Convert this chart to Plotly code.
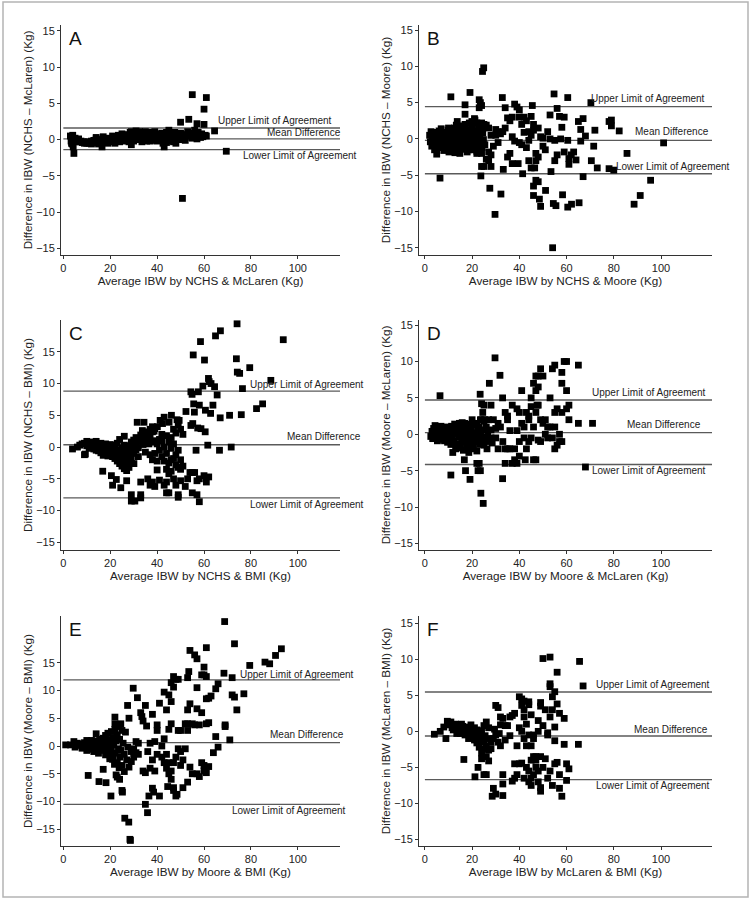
import plotly.graph_objects as go

# ---------------- DATA ----------------
x_ticks = [0, 20, 40, 60, 80, 100]
y_ticks = [-15, -10, -5, 0, 5, 10, 15]

panel_letters = ["A", "B", "C", "D", "E", "F"]
x_titles = [
    "Average IBW by NCHS & McLaren (Kg)",
    "Average IBW by NCHS & Moore (Kg)",
    "Average IBW by NCHS & BMI (Kg)",
    "Average IBW by Moore & McLaren (Kg)",
    "Average IBW by Moore & BMI (Kg)",
    "Average IBW by McLaren & BMI (Kg)",
]
y_titles = [
    "Difference in IBW (NCHS – McLaren) (Kg)",
    "Difference in IBW (NCHS – Moore) (Kg)",
    "Difference in IBW (NCHS – BMI) (Kg)",
    "Difference in IBW (Moore – McLaren) (Kg)",
    "Difference in IBW (Moore – BMI) (Kg)",
    "Difference in IBW (McLaren – BMI) (Kg)",
]
line_labels = ["Lower Limit of Agreement", "Mean Difference", "Upper Limit of Agreement"]

# limits of agreement: [lower, mean, upper]
limits_A = [-1.38, 0.1, 1.6]
limits_B = [-4.8, -0.2, 4.45]
limits_C = [-8.0, 0.37, 8.8]
limits_D = [-4.15, 0.23, 4.7]
limits_E = [-10.5, 0.6, 11.9]
limits_F = [-6.7, -0.65, 5.45]

pts_A = [
    (3.0, 0.5), (3.3, -0.2), (3.5, -0.5), (3.6, 0.3), (3.8, -0.6), (4.0, 0.1), (4.0, 0.6), (4.2, -1.0),
    (4.5, -1.9), (4.8, -0.3), (5.0, 0.2), (5.5, 0.0), (6.0, -0.2), (6.5, 0.1), (7.0, -0.3), (7.5, -0.2),
    (8.0, -0.4), (8.5, -0.3), (9.0, -0.5), (9.5, -0.4), (10.0, -0.5), (10.5, -0.3), (11.0, -0.5),
    (11.5, -0.4), (12.0, -0.2), (12.0, -0.6), (12.5, -0.4), (13.0, -0.1), (13.5, -0.3), (14.0, 0.1),
    (14.0, 0.3), (14.5, -0.2), (15.0, -0.1), (15.0, -0.6), (15.5, -0.3), (16.0, 0.0), (16.5, -1.0),
    (17.0, -0.2), (17.0, 0.4), (17.5, 0.1), (18.0, -0.3), (18.5, 0.2), (19.0, -0.1), (19.0, -0.5),
    (19.5, 0.0), (20.0, 0.1), (20.5, -0.3), (21.0, 0.2), (21.0, 0.5), (21.5, -0.2), (22.0, 0.0),
    (22.0, -0.5), (22.5, 0.4), (23.0, 0.2), (23.5, 0.6), (24.0, 0.1), (24.0, -0.3), (24.5, 0.5),
    (25.0, 0.3), (25.0, 0.8), (25.5, 0.0), (26.0, 0.4), (26.0, -0.2), (26.5, 0.2), (27.0, 0.1),
    (27.0, 0.7), (27.5, 0.5), (28.0, 0.2), (28.0, -0.3), (28.5, 1.0), (29.0, -0.7), (29.0, 1.1),
    (29.5, 0.7), (30.0, 0.5), (30.0, -0.2), (30.5, 1.0), (31.0, 0.3), (31.0, 1.2), (31.5, 0.8),
    (32.0, 0.0), (32.5, 1.1), (33.0, 0.6), (33.0, 0.9), (33.5, -0.3), (34.0, 0.9), (34.0, 0.0),
    (34.5, 0.4), (35.0, 1.1), (35.5, -0.2), (36.0, 0.7), (36.0, 1.0), (36.5, 0.3), (37.0, 0.9),
    (37.0, -0.2), (37.5, 0.5), (38.0, 1.0), (38.5, -0.1), (39.0, 0.6), (39.0, 1.1), (39.5, 0.2),
    (40.0, 0.8), (40.0, -0.2), (40.5, 0.4), (41.0, 0.6), (41.5, 0.0), (42.0, 0.3), (42.0, 0.9),
    (42.5, -0.5), (43.0, -1.0), (43.5, 0.2), (44.0, -0.4), (44.0, 1.0), (44.5, 0.6), (45.0, 1.3),
    (45.0, -0.2), (45.5, 0.3), (46.0, 0.9), (46.5, 0.1), (47.0, 0.6), (47.0, -0.3), (47.5, 1.0),
    (48.0, -0.5), (48.0, 0.8), (48.5, 0.3), (49.0, 0.6), (49.5, 0.1), (50.0, 2.4), (50.0, 0.0),
    (50.0, 0.9), (50.5, 0.5), (50.8, -8.1), (51.0, 0.4), (51.5, 0.7), (52.0, 0.3), (52.0, -0.1),
    (52.5, 0.6), (53.0, 0.5), (53.0, 1.1), (53.5, 2.8), (54.0, 0.8), (54.5, 0.6), (55.0, 6.2),
    (55.0, 0.2), (55.5, 0.9), (56.0, 0.7), (56.0, 1.3), (57.0, 2.2), (57.0, 0.1), (57.5, 1.0),
    (58.0, 0.6), (58.5, 0.3), (59.0, 0.8), (59.5, 0.4), (60.0, 2.1), (60.0, 4.2), (60.5, 0.6),
    (61.0, 5.8), (61.0, 0.5), (64.5, 1.2), (69.5, -1.6),
]

pts_B = [
    # dense cluster
    (2.0, 0.5), (2.3, -0.4), (2.6, 1.0), (2.9, -1.0), (3.2, 0.2), (3.5, -0.7), (3.8, 0.6), (4.1, -1.5),
    (4.4, -0.2), (4.7, 0.9), (5.0, -2.1), (5.3, 0.3), (5.6, -0.9), (5.9, 0.5), (6.2, -0.3), (6.5, 0.8),
    (6.8, -1.2), (7.1, 0.1), (7.4, -0.6), (7.7, 0.4), (8.0, -1.6), (8.3, 0.9), (8.6, -0.2), (8.9, 0.6),
    (9.2, -1.0), (9.5, 0.2), (9.8, 1.2), (10.1, -0.5), (10.4, 0.7), (10.7, -1.3), (11.0, 0.0), (11.3, 1.0),
    (11.6, -0.8), (11.9, 0.4), (12.2, -1.6), (12.5, 1.5), (12.8, -0.3), (13.1, 0.8), (13.4, -1.1),
    (13.7, 2.4), (14.0, 0.2), (14.3, -1.7), (14.6, 1.2), (14.9, -0.5), (15.2, 0.6), (15.5, -1.4),
    (15.8, 1.8), (16.1, -0.1), (16.4, 0.9), (16.7, -1.0), (17.0, 2.0), (17.3, -0.6), (17.6, 0.4),
    (17.9, -1.8), (18.2, 1.3), (18.5, -0.2), (18.8, 2.2), (19.1, -1.2), (19.4, 0.7), (19.7, -0.4),
    (20.0, 1.6), (20.3, -1.5), (20.6, 0.3), (20.9, -0.8), (21.2, 2.6), (21.5, 0.1), (21.8, -1.0),
    (22.1, 1.1), (22.4, -0.3), (22.7, 1.9), (23.0, -1.9), (23.3, 0.5), (23.6, -0.6), (23.9, 1.4),
    (24.2, -1.2), (24.5, 0.8), (24.8, -0.1), (25.1, 1.7), (25.4, -0.8),
    (3.0, -0.1), (4.0, 0.4), (5.0, -0.5), (6.0, 1.1), (7.0, -0.9), (8.0, 0.3), (9.0, -0.4), (10.0, 1.5),
    (11.0, -1.1), (12.0, 0.6), (13.0, -0.6), (14.0, 1.6), (15.0, -0.9), (16.0, 0.5), (17.0, -1.4),
    (18.0, 0.0), (19.0, 1.1), (20.0, -0.6), (21.0, 0.9), (22.0, -1.7), (23.0, 0.2), (24.0, 2.2),
    (12.7, -1.9), (14.8, -2.0), (16.2, 1.4), (18.6, -1.5), (10.2, -1.8), (13.3, 1.9), (19.9, 2.4),
    (6.9, 1.4),
    # scattered
    (11.0, 5.8), (6.4, -5.4), (19.1, 6.4), (17.0, 4.7), (17.0, 3.4), (23.0, 5.4), (23.5, 5.0),
    (24.0, 4.6), (23.0, 4.3), (24.4, 9.3), (24.9, 9.8), (24.0, -3.8), (25.0, -3.8), (23.7, -5.1),
    (27.5, -6.8), (28.0, -3.8), (32.2, -7.6), (29.7, -10.4), (32.8, 5.7), (34.0, 4.3), (33.2, -4.2),
    (35.0, -2.5), (36.0, -2.0), (37.0, 3.0), (38.0, 4.8), (39.0, 4.4), (40.0, 4.0), (40.0, 3.0),
    (39.5, -3.4), (37.0, -3.4), (41.4, -4.8), (41.0, 2.0), (42.0, 3.0), (43.0, 2.5), (44.0, 1.0),
    (45.5, 4.6), (46.0, -7.8), (46.0, -6.5), (47.0, -5.7), (48.0, -5.9), (48.5, -8.3), (49.0, -9.3),
    (44.0, -3.0), (45.0, -4.0), (46.5, -4.0), (47.0, -3.0), (47.0, -2.0), (48.0, 1.5), (49.0, 0.3),
    (50.0, -1.0), (51.0, -1.5), (51.1, -7.1), (53.0, 3.3), (53.4, -4.5), (54.4, -8.9), (55.5, -9.2),
    (54.1, -15.0), (54.7, 6.2), (56.0, 4.2), (57.0, 3.1), (58.0, 1.6), (56.0, -2.2), (55.0, -3.0),
    (55.0, -0.2), (58.3, -7.7), (60.5, -9.4), (62.1, -9.0), (60.5, 5.7), (59.0, 3.0), (60.5, -0.2),
    (61.0, -2.7), (61.0, -3.5), (62.0, -2.2), (63.0, -1.8), (64.0, -2.9), (65.0, 2.4), (66.0, 1.3),
    (65.3, -8.8), (66.0, -0.3), (67.0, -5.2), (67.0, 2.8), (68.0, 0.4), (70.3, 5.0), (70.5, -3.0),
    (71.5, -1.0), (72.0, 1.2), (73.0, -4.0), (78.0, 2.4), (79.0, 2.6), (79.0, 1.8), (78.0, -4.1),
    (80.0, -4.3), (82.3, 1.1), (85.6, -2.0), (88.6, -9.0), (91.2, -7.8), (95.6, -5.7), (101.1, -0.55),
    (26.0, 1.9), (27.0, 1.5), (28.0, 0.5), (29.0, -1.0), (30.0, 1.3), (31.0, -0.5), (32.0, 0.7),
    (33.0, 1.0), (34.0, 1.5), (35.0, 2.9), (36.0, 2.5), (37.0, 0.3), (38.0, -0.3), (40.0, -0.5),
    (41.0, -0.8), (42.0, 0.9), (43.0, -1.2), (44.0, -0.2), (45.0, 0.5), (46.0, 2.0), (45.0, 3.1),
    (46.0, 1.2), (48.0, -2.5), (50.0, 0.1), (52.0, 1.0), (53.0, 0.0), (57.5, 0.0), (59.0, -1.8),
    (26.0, -2.8), (27.0, -3.0), (24.0, -2.0), (22.0, -2.0), (21.0, 2.8), (20.0, 2.0), (22.0, 2.2),
    (25.0, 2.0), (30.0, 0.5), (31.0, 1.0), (27.0, -1.8), (28.0, -2.2),
]

pts_C = [
    (3.9, -0.3), (6.0, 0.0), (7.0, 0.3), (8.0, 0.5), (9.4, -1.1), (9.0, 0.6), (10.0, 0.9), (10.0, 0.2),
    (11.0, 0.5), (11.0, -0.2), (12.0, 0.8), (12.0, 0.1), (13.0, 0.4), (13.0, -0.3), (14.0, 0.9),
    (14.0, -0.5), (15.0, 0.2), (15.0, -0.6), (16.0, 0.6), (16.0, -0.2), (16.0, -0.9), (17.0, 0.3),
    (17.0, -0.7), (17.0, -1.3), (18.0, 0.5), (18.0, -0.3), (18.0, -1.0), (19.0, 0.1), (19.0, -0.6),
    (19.0, -1.4), (20.0, 0.4), (20.0, -0.2), (20.0, -0.9), (21.0, 0.0), (21.0, -1.5), (21.0, -0.6),
    (22.0, 0.3), (22.0, -0.3), (22.0, -1.1), (22.0, -1.8), (23.0, -0.5), (23.0, -1.3), (23.0, -2.2),
    (23.0, 0.6), (24.0, -0.8), (24.0, -1.7), (24.0, -2.6), (24.0, 1.2), (25.0, -0.2), (25.0, -1.2),
    (25.0, -2.0), (25.0, -3.0), (26.0, 0.3), (26.0, -1.0), (26.0, -2.4), (26.0, -3.4), (26.0, 1.7),
    (27.0, -0.5), (27.0, -1.8), (27.0, -2.8), (27.0, -3.7), (28.0, 0.2), (28.0, -1.3), (28.0, -2.2),
    (28.0, -3.2), (29.0, 0.8), (29.0, -0.3), (29.0, -1.8), (29.0, -2.6), (30.0, 1.1), (30.0, 0.2),
    (30.0, -1.0), (31.0, 1.5), (31.0, 0.5), (31.0, -0.4), (32.0, 0.9), (32.0, -0.1), (33.0, 1.9),
    (33.0, 1.2), (34.0, 0.4), (34.0, 2.2), (35.0, 1.6), (35.0, 0.9), (36.0, 2.3), (36.0, 1.2),
    (37.0, 2.8), (37.0, 1.6), (38.0, 3.2), (38.0, 2.4), (39.0, 2.9), (39.0, 1.0), (16.8, -3.8),
    (9.0, -1.2), (14.5, 0.0), (18.5, 0.2), (20.5, -1.3), (31.5, 3.9), (34.4, 3.9), (33.7, 2.6),
    (35.8, 2.4), (38.7, 2.5), (40.1, 3.2), (41.3, 4.2), (42.3, 3.7), (43.0, 4.7), (46.1, 5.0),
    (45.1, 3.9), (36.5, 0.5), (38.0, 0.8), (30.1, -2.6), (26.5, -3.4), (20.5, -4.5), (22.6, -5.1),
    (24.5, -6.4), (21.0, -6.0), (27.0, -5.3), (29.0, -7.5), (29.0, -8.5), (30.5, -8.5), (33.0, -7.5),
    (33.0, -5.5), (33.0, -8.0), (36.0, -5.0), (37.0, -6.0), (38.0, -5.5), (39.0, -6.2), (41.0, -5.2),
    (43.0, -6.0), (44.0, -7.2), (45.0, -7.2), (44.0, -5.5), (45.0, -4.2), (46.0, -3.8), (47.0, -5.0),
    (48.0, -6.0), (49.0, -7.5), (49.0, -7.9), (50.0, -5.3), (52.0, -6.2), (53.0, -5.0), (54.0, -4.0),
    (55.0, -4.0), (55.0, -7.2), (56.0, -4.0), (57.0, -5.3), (57.0, -7.5), (58.0, -8.6), (60.0, -4.5),
    (61.0, -5.5), (62.0, -4.7), (58.0, -5.0), (40.0, 0.5), (41.0, -0.5), (41.0, 1.2), (42.0, -1.5),
    (42.0, 2.0), (43.0, -2.2), (43.0, 0.0), (44.0, 1.8), (44.0, -1.0), (45.0, 0.8), (45.0, -2.5),
    (46.0, 1.5), (46.0, -0.2), (47.0, -1.8), (47.0, 0.5), (48.0, -1.2), (48.0, -2.8), (49.0, -0.5),
    (49.0, -3.2), (50.0, -2.0), (50.0, -3.5), (51.0, -3.0), (48.0, 2.2), (49.0, 3.5), (50.0, 2.8),
    (51.0, 2.0), (48.5, 4.3), (38.0, -2.0), (39.0, -1.0), (40.0, -3.6), (49.4, 4.2), (32.0, -1.5),
    (35.0, -0.8), (37.0, -1.2), (40.0, -2.2), (44.0, -3.5), (46.0, -2.0), (47.0, 2.8), (42.0, 1.0),
    (54.4, 8.7), (54.9, 8.3), (55.4, 14.5), (58.5, 16.6), (60.2, 13.7), (59.5, 9.6), (61.9, 10.8),
    (62.2, 10.3), (63.0, 10.0), (64.9, 17.5), (67.0, 18.3), (64.5, 9.5), (65.6, 8.2), (63.8, 6.6),
    (62.8, 5.3), (66.9, 4.6), (70.9, 5.0), (71.6, 0.0), (74.1, 19.4), (73.8, 13.9), (74.2, 11.8),
    (75.2, 11.6), (75.9, 5.1), (76.4, 9.2), (79.5, 12.5), (82.4, 6.05), (85.0, 6.8), (88.5, 10.5),
    (93.8, 16.9), (52.3, 5.6), (55.9, 5.5), (55.6, 6.8), (58.0, 6.6), (57.6, 8.7), (54.4, 3.4),
    (55.2, 3.7), (57.3, 3.0), (58.7, 2.9), (60.5, 2.4), (56.6, -0.5), (61.6, 0.3), (66.6, -0.5),
    (60.6, 5.8),
]

pts_D = [
    (2.5, -0.3), (3.0, 0.4), (3.3, -0.6), (3.7, 0.8), (4.0, -0.1), (4.3, 1.2), (4.6, -0.5), (5.0, 0.3),
    (5.3, -0.9), (5.6, 0.9), (6.0, -0.2), (6.3, 0.5), (6.6, -0.7), (7.0, 0.2), (7.3, 0.8), (7.6, -0.4),
    (8.0, 0.1), (8.3, -0.9), (8.6, 0.6), (9.0, -0.3), (9.3, 0.3), (9.6, -1.1), (10.0, 0.9), (10.3, -0.5),
    (10.6, 0.2), (11.0, -1.4), (11.3, 1.1), (11.6, -0.2), (12.0, 0.6), (12.3, -0.9), (12.6, 1.4),
    (13.0, -2.0), (13.3, 0.1), (13.6, -1.3), (14.0, 0.8), (14.3, -0.4), (14.6, 1.5), (15.0, -1.6),
    (15.3, 0.4), (15.6, -0.8), (16.0, 1.2), (16.3, -2.2), (16.6, 0.0), (17.0, -1.0), (17.3, 0.7),
    (17.6, -1.8), (18.0, 1.4), (18.3, -0.3), (18.6, -2.5), (19.0, 0.5), (19.3, -1.2), (19.6, 1.0),
    (20.0, -0.6), (20.3, 1.5), (20.6, -1.7), (21.0, 0.2), (21.3, -0.9), (21.6, 1.3), (22.0, -2.3),
    (22.3, 0.4), (22.6, -0.5), (23.0, 1.0), (23.3, -1.4), (23.6, 0.0), (24.0, 2.0), (24.3, -0.8),
    (24.6, 0.6), (25.0, -1.5), (25.3, 2.0), (25.6, -0.4), (26.0, 1.0), (26.3, -2.0), (26.6, 0.3),
    (27.0, 2.0), (27.3, -0.8), (28.0, 0.6), (28.5, -1.2), (29.0, 2.0), (30.0, 0.8),
    (4.5, 0.1), (6.8, 1.1), (8.8, 1.0), (10.8, -0.1), (12.2, 0.3), (14.8, -1.9), (16.8, 1.5),
    (18.8, -0.8), (20.8, 0.0), (22.8, -1.0), (11.8, -2.5), (19.8, -2.0), (15.8, 1.6), (17.8, 0.3),
    (13.8, 0.4), (9.8, 0.5),
    (6.4, 5.3), (11.0, -5.6), (16.7, -3.5), (17.2, -5.0), (19.1, -6.2), (22.0, -4.0), (23.0, -4.0),
    (22.5, -5.0), (23.5, -5.0), (23.7, -8.1), (24.7, -9.5), (23.4, 5.5), (24.0, 4.2), (25.0, 4.0),
    (24.5, 3.0), (23.5, 2.0), (25.0, 1.8), (22.0, 1.5), (20.0, 2.0), (27.3, 7.0), (28.0, 4.0),
    (29.7, 10.5), (31.8, 8.1), (32.9, 5.0), (32.9, -6.1), (34.0, -4.0), (30.0, -0.5), (31.0, 1.5),
    (32.0, 1.0), (33.0, -1.0), (34.0, 3.0), (35.0, 2.5), (35.0, 2.0), (36.0, -2.0), (37.0, 4.0),
    (37.0, -4.0), (38.0, -3.5), (39.0, -4.0), (39.0, 3.5), (40.0, -3.0), (38.0, -2.0), (40.0, -1.0),
    (41.0, 6.0), (41.0, 1.5), (42.0, 1.0), (42.0, -0.5), (42.5, -3.5), (43.0, -2.0), (44.0, -1.0),
    (44.0, 2.5), (45.0, 3.8), (45.0, 5.0), (46.0, 7.0), (46.0, -3.5), (47.0, -3.5), (47.0, 6.0),
    (47.0, 8.0), (48.0, 4.0), (48.0, 6.5), (48.0, 8.0), (49.0, 9.0), (49.0, 2.0), (49.0, -1.0),
    (50.0, 8.0), (50.0, 1.5), (51.0, 2.0), (51.0, 0.0), (52.0, 1.0), (53.0, 5.0), (53.0, 1.0),
    (54.0, 9.0), (54.0, -0.5), (55.0, 9.5), (55.0, 3.0), (55.0, 1.0), (55.0, -2.0), (56.0, 3.5),
    (56.0, -1.5), (57.0, -1.0), (57.0, 0.0), (58.0, 7.0), (58.0, 8.5), (58.0, 3.0), (58.0, -1.0),
    (59.0, 10.0), (60.0, 6.0), (60.0, 10.0), (60.0, 3.5), (61.0, 4.0), (61.0, 2.0), (65.0, 9.5),
    (65.0, 1.5), (68.0, -4.5), (71.0, 1.5), (44.0, 2.0), (45.0, -0.5), (46.0, 1.0), (47.0, 3.0),
    (47.5, 4.0), (40.0, 3.0), (39.0, 0.5), (43.0, 3.0), (48.0, -0.8), (52.0, -0.5), (36.0, 0.5),
    (34.0, -2.0), (35.0, -2.0), (31.0, -2.0), (26.0, -1.0), (28.0, -0.5),
]

pts_E = [
    (1.0, 0.2), (3.0, 0.2), (4.5, 0.8), (5.0, -0.2), (6.0, 0.5), (7.0, 0.1), (8.0, -0.4), (9.0, 0.6),
    (9.5, -0.2), (10.0, 1.0), (10.5, 0.2), (11.0, -0.6), (11.5, 0.7), (12.0, -0.3), (12.5, 0.4),
    (13.0, -1.0), (13.5, 0.9), (14.0, 2.2), (14.0, -0.2), (14.5, 0.5), (15.0, -1.3), (15.5, 1.2),
    (16.0, 0.0), (16.5, -0.8), (17.0, 1.4), (17.0, -4.2), (17.5, 0.3), (18.0, -1.6), (18.0, 1.9),
    (18.5, 0.8), (19.0, -0.5), (19.0, 2.3), (19.5, 1.1), (20.0, -1.9), (20.0, 0.4), (20.5, 2.6),
    (20.5, -0.9), (21.0, 1.5), (21.0, -2.4), (21.5, 0.2), (22.0, 3.0), (22.0, -1.3), (22.0, 5.2),
    (22.0, 4.0), (22.5, 0.9), (22.5, -5.2), (23.0, 2.0), (23.0, -3.0), (23.0, -5.6), (23.5, -0.5),
    (24.0, 1.2), (24.0, -2.0), (24.5, -0.8), (25.0, 2.8), (25.0, -3.5), (25.0, -8.0), (25.2, -8.3),
    (25.5, 0.5), (26.0, -1.5), (26.0, -4.6), (26.2, -13.0), (26.5, 2.5), (27.0, -2.5), (27.4, 7.3),
    (27.5, -0.2), (27.9, -13.7), (28.0, 5.0), (28.0, -3.8), (28.4, -16.8), (28.6, -17.0), (29.0, -1.0),
    (29.0, -2.8), (30.0, -0.5), (30.0, -2.0), (31.0, 0.8), (31.0, -1.2), (32.0, 0.5), (32.0, -1.5),
    (16.5, -0.3), (18.5, -1.0), (15.0, 0.6), (12.0, 1.0), (10.0, -0.8), (8.5, 0.3), (13.0, 0.3),
    (11.0, 0.5), (19.8, -2.3), (21.8, -3.3), (23.8, -3.9), (24.5, 4.0), (23.5, 3.5), (24.0, -6.0),
    (10.6, -5.3), (15.2, -6.4), (18.2, -6.6), (20.3, -9.0), (29.8, 10.4), (31.6, 8.7), (33.0, 6.0),
    (33.5, 5.3), (34.0, 4.5), (35.0, 7.3), (35.5, 3.6), (34.0, -4.5), (35.0, -4.8), (35.0, -10.5),
    (35.9, -12.0), (36.5, -9.0), (37.0, -4.0), (38.0, -7.6), (38.5, -8.3), (39.0, -4.5), (38.0, 5.7),
    (40.0, 3.8), (40.0, 2.8), (41.0, 7.7), (42.0, 0.0), (41.0, -9.0), (43.0, 1.3), (43.0, -3.0),
    (43.0, 9.7), (44.0, -4.0), (44.0, 6.5), (44.5, -7.3), (45.0, -3.0), (45.0, 9.2), (45.0, 3.0),
    (45.0, -5.0), (46.0, 8.0), (46.0, 4.0), (46.0, 11.4), (46.0, -4.5), (46.0, -6.0), (47.0, 10.6),
    (47.0, 12.5), (47.0, -7.5), (47.0, -8.0), (47.0, -3.0), (48.0, 12.0), (48.0, -2.0), (48.0, -9.0),
    (48.5, -8.7), (49.0, 2.8), (49.0, -0.5), (49.0, 12.0), (50.0, -3.5), (50.0, -1.0), (50.0, 2.8),
    (51.0, -2.5), (51.0, -7.5), (52.0, 4.0), (52.0, -0.5), (53.0, 4.0), (53.0, 2.8), (53.0, -6.5),
    (53.0, 6.5), (53.0, 12.3), (53.5, 13.4), (54.0, 17.2), (54.0, 7.6), (54.0, -3.8), (55.0, -5.0),
    (55.0, 4.0), (56.0, 16.4), (56.0, 3.8), (57.0, 15.7), (57.0, 10.5), (57.0, 6.7), (57.0, -5.0),
    (58.0, -5.5), (58.0, 3.8), (59.0, 12.8), (59.0, 6.0), (59.0, -3.0), (60.0, 12.8), (60.0, 14.2),
    (60.0, -3.5), (60.0, -4.5), (61.0, 17.7), (61.0, 12.5), (61.0, 8.5), (61.0, 4.0), (61.0, -4.8),
    (62.0, 4.2), (62.0, -3.7), (62.0, 8.6), (63.0, 9.0), (64.0, -1.2), (65.0, 1.7), (65.0, 10.3),
    (66.0, 11.2), (66.0, -0.2), (68.5, 13.1), (68.8, 22.4), (69.0, 3.8), (69.0, 3.5), (71.0, 1.1),
    (72.0, 12.3), (72.0, 9.2), (73.0, 8.8), (73.0, 18.4), (74.0, 6.5), (77.0, 9.4), (79.5, 14.5),
    (86.0, 15.1), (88.0, 14.8), (90.5, 16.3), (93.0, 17.5), (36.0, -1.0), (38.0, -2.5), (40.0, -1.5),
    (42.0, -2.0), (37.0, 0.5), (44.0, -1.5), (39.0, 0.8),
]

pts_F = [
    (4.0, -0.4), (6.5, 0.0), (8.0, 0.6), (8.9, -1.0), (9.5, 1.4), (10.0, 1.2), (10.5, 0.9), (11.0, 1.3),
    (12.0, 0.8), (12.0, 0.2), (13.0, 1.0), (13.0, 0.3), (14.0, 0.8), (14.0, 0.0), (15.0, 0.6),
    (15.0, -0.3), (16.0, 0.7), (16.0, 0.1), (16.5, -3.9), (17.0, 0.5), (17.0, -0.5), (18.0, 0.6),
    (18.0, 0.0), (19.0, 0.4), (19.0, -0.4), (20.0, 0.3), (20.0, -0.2), (21.0, 0.5), (21.0, -1.2),
    (21.2, -6.3), (22.0, 0.2), (22.0, -0.8), (22.0, -1.6), (22.5, -5.0), (23.0, -0.2), (23.0, -2.2),
    (24.0, 0.1), (24.0, -1.0), (24.0, -3.0), (24.0, -3.8), (25.0, -1.5), (25.0, -2.5), (25.0, -6.0),
    (25.0, 0.8), (26.0, 1.3), (26.0, -2.0), (26.0, -3.5), (26.0, -6.0), (27.0, -2.6), (27.0, -4.1),
    (27.0, 0.5), (28.0, -1.5), (28.0, -2.4), (28.5, -9.0), (29.0, -7.9), (29.0, -1.0), (30.0, 3.6),
    (30.0, -0.5), (30.0, -8.7), (31.0, 3.3), (31.0, -1.5), (32.0, 2.0), (32.0, 0.9), (32.0, -2.0),
    (33.0, 1.8), (33.0, -6.0), (33.0, -7.3), (33.0, -8.9), (34.0, 0.8), (35.0, 0.8), (36.0, 2.0),
    (37.0, 2.2), (37.0, -6.9), (38.0, 2.5), (38.0, -4.5), (38.0, -6.5), (39.0, -6.0), (39.0, -2.0),
    (40.0, 4.8), (40.0, 0.5), (40.0, -4.5), (41.0, 3.6), (41.0, 4.5), (41.0, 0.0), (41.0, -4.4),
    (42.0, 4.2), (42.0, 3.0), (42.0, 2.0), (42.0, -1.0), (42.0, -6.5), (43.0, -5.0), (43.0, -2.0),
    (43.0, 1.0), (44.0, 3.7), (44.0, 4.1), (44.0, -5.5), (44.0, -7.0), (44.0, -0.5), (45.0, -4.0),
    (45.0, -6.5), (45.0, -7.5), (45.0, -2.0), (45.0, 2.3), (46.0, -3.5), (46.0, -6.0), (46.0, -1.0),
    (46.0, -0.5), (47.0, -3.5), (47.0, -5.0), (47.0, -4.0), (48.0, -5.5), (48.0, -7.0), (48.0, 0.0),
    (48.0, 1.5), (49.0, 4.0), (49.0, 3.5), (49.0, -8.3), (49.0, -7.8), (49.0, -3.5), (50.0, 10.1),
    (50.0, 0.8), (50.0, -5.0), (51.0, 3.0), (51.0, -3.8), (52.0, -6.5), (52.0, -0.2), (52.0, -0.5),
    (53.0, 10.3), (53.0, 6.6), (53.0, 6.2), (53.0, 2.0), (53.0, -5.5), (54.0, 4.8), (54.0, 3.0),
    (54.0, -7.5), (55.0, 5.5), (55.0, -1.3), (55.0, 0.6), (55.0, -4.5), (56.0, 3.8), (56.0, -4.3),
    (56.0, 8.2), (57.0, -6.0), (57.0, -7.9), (57.0, 2.5), (58.0, -9.0), (59.0, 1.8), (59.0, -1.8),
    (60.0, -4.5), (60.0, -6.8), (61.0, -5.2), (65.0, -1.8), (65.5, 9.7), (67.0, 6.3),
    (11.5, 0.5), (13.5, -0.3), (15.5, 1.0), (17.5, 0.1), (18.5, -1.0), (19.5, 0.9), (20.5, -0.7),
    (23.5, -1.3), (25.5, -0.6), (27.5, -1.0), (29.5, 0.3), (31.5, -0.3), (34.0, -1.2), (36.0, -0.6),
]

# ---------------- LAYOUT ----------------
FONT = "Liberation Sans, Arial, Helvetica, sans-serif"
AX = "#333333"
LINE = "#5a5a5a"

W, H = 750, 900
left_x = (61, 340)
right_x = (419, 712)
rows_y = [(25, 255), (320, 550), (616, 846)]

panels = [
    dict(pts=pts_A, lim=limits_A, col=left_x, row=rows_y[0], xr=[-1, 118], yr=[-15.9, 15.8],
         lab=[(126, -2.16), (119.4, 0.92), (115.5, 2.66)]),
    dict(pts=pts_B, lim=limits_B, col=right_x, row=rows_y[0], xr=[-2.5, 121.6], yr=[-16.0, 15.7],
         lab=[(130.2, -3.76), (121.2, 0.96), (119.4, 5.6)]),
    dict(pts=pts_C, lim=limits_C, col=left_x, row=rows_y[1], xr=[-1, 118], yr=[-16.2, 20.0],
         lab=[(128.9, -9.0), (127.9, 1.68), (128.9, 9.84)]),
    dict(pts=pts_D, lim=limits_D, col=right_x, row=rows_y[1], xr=[-2.5, 121.6], yr=[-15.9, 15.7],
         lab=[(119.8, -4.93), (117.9, 1.29), (119.8, 5.76)]),
    dict(pts=pts_E, lim=limits_E, col=left_x, row=rows_y[2], xr=[-1, 118], yr=[-18.0, 23.4],
         lab=[(121.6, -11.6), (120.6, 2.1), (124.8, 12.8)]),
    dict(pts=pts_F, lim=limits_F, col=right_x, row=rows_y[2], xr=[-2.5, 121.6], yr=[-15.9, 16.0],
         lab=[(121.8, -7.5), (120.8, 0.28), (121.8, 6.45)]),
]

fig = go.Figure()
annotations = []
layout_axes = {}

for i, p in enumerate(panels):
    n = i + 1
    xa = "x" if n == 1 else f"x{n}"
    ya = "y" if n == 1 else f"y{n}"
    xs = [q[0] for q in p["pts"]]
    ys = [q[1] for q in p["pts"]]
    # agreement lines
    for v in p["lim"]:
        fig.add_trace(go.Scatter(
            x=[0, p["xr"][1] + 5], y=[v, v], mode="lines", xaxis=xa, yaxis=ya,
            line=dict(color=LINE, width=1.4), hoverinfo="skip", showlegend=False))
    fig.add_trace(go.Scatter(
        x=xs, y=ys, mode="markers", xaxis=xa, yaxis=ya, showlegend=False,
        marker=dict(symbol="square", size=6.8, color="black", line=dict(width=0))))
    xd = [p["col"][0] / W, p["col"][1] / W]
    yd = [1 - p["row"][1] / H, 1 - p["row"][0] / H]
    common = dict(showline=True, linecolor=AX, linewidth=1, ticks="outside", ticklen=3,
                  tickcolor=AX, tickwidth=1, showgrid=False, zeroline=False,
                  tickfont=dict(family=FONT, size=11, color="#222"))
    layout_axes["xaxis" if n == 1 else f"xaxis{n}"] = dict(
        domain=xd, range=p["xr"], anchor=ya, tickvals=x_ticks,
        title=dict(text=x_titles[i], font=dict(family=FONT, size=11.7, color="#222"), standoff=0),
        **common)
    layout_axes["yaxis" if n == 1 else f"yaxis{n}"] = dict(
        domain=yd, range=p["yr"], anchor=xa, tickvals=y_ticks,
        title=dict(text=y_titles[i], font=dict(family=FONT, size=11.7, color="#222"), standoff=1),
        **common)
    # line labels (placed in axis-domain fractions so they may extend past the axis end)
    x0, x1 = p["xr"]
    y0, y1 = p["yr"]
    for (lx, ly), txt in zip(p["lab"], line_labels):
        annotations.append(dict(x=(lx - x0) / (x1 - x0), y=(ly - y0) / (y1 - y0),
                                xref=f"{xa} domain", yref=f"{ya} domain", text=txt, showarrow=False,
                                xanchor="right", yanchor="middle",
                                font=dict(family=FONT, size=10, color="#222")))
    # panel letter
    annotations.append(dict(x=0.022, y=0.995, xref=f"{xa} domain", yref=f"{ya} domain",
                            text=panel_letters[i], showarrow=False, xanchor="left", yanchor="top",
                            font=dict(family=FONT, size=19, color="#111")))

fig.update_layout(
    width=W, height=H, margin=dict(l=0, r=0, t=0, b=0),
    paper_bgcolor="white", plot_bgcolor="white",
    annotations=annotations,
    shapes=[dict(type="rect", xref="paper", yref="paper", x0=3 / W, x1=748 / W,
                 y0=1 - 897 / H, y1=1 - 2 / H, line=dict(color="#b4b4b4", width=1.5))],
    **layout_axes,
)

fig.write_html("out.html", config={"displayModeBar": False},
               post_script="document.body.style.margin='0';document.body.style.overflow='hidden';")
